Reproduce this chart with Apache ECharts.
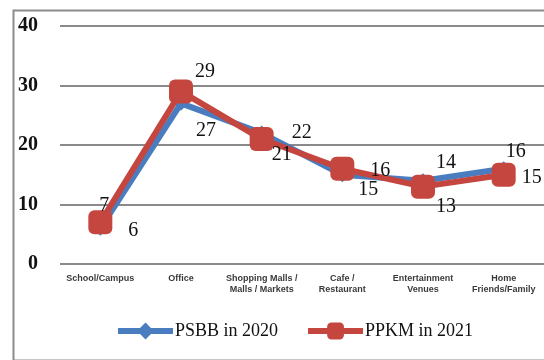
<!DOCTYPE html>
<html>
<head>
<meta charset="utf-8">
<script src="https://cdn.jsdelivr.net/npm/echarts@6/dist/echarts.min.js"></script>
<style>
  html, body { margin: 0; padding: 0; background: #fff; }
  #chart { width: 544px; height: 360px; }
</style>
</head>
<body>
<div id="chart"></div>
<script>
// Places visited, by period
const categories = [
  'School/Campus',
  'Office',
  'Shopping Malls /\nMalls / Markets',
  'Cafe /\nRestaurant',
  'Entertainment\nVenues',
  'Home\nFriends/Family'
];
const psbb2020 = [6, 27, 22, 15, 14, 16];
const ppkm2021 = [7, 29, 21, 16, 13, 15];
const yTicks = [0, 10, 20, 30, 40];

// Value-label placement (offset of label centre from the point, px)
const psbbLabelOffsets = [[33, 2], [25, 27], [40, 0], [26, 15], [23, -18], [12, -17]];
const ppkmLabelOffsets = [[4, -17], [24, -20], [20, 16], [38, 2], [23, 20], [28, 3]];

const BLUE = '#4A7DBF';
const RED = '#C5463F';
const serif = '"Liberation Serif", "DejaVu Serif", serif';

function withLabels(values, offsets) {
  return values.map((v, i) => ({
    value: v,
    label: { offset: offsets[i] }
  }));
}

const chart = echarts.init(document.getElementById('chart'), null, { renderer: 'canvas' });

chart.setOption({
  animation: false,
  backgroundColor: '#ffffff',
  graphic: [{
    type: 'rect',
    left: 11, top: 8,
    shape: { width: 560, height: 350 },
    style: { fill: 'none', stroke: '#8c8c8c', lineWidth: 2 },
    silent: true,
    z: -1
  }],
  grid: { left: 60, right: -2, top: 26, bottom: 96, containLabel: false },
  legend: {
    left: 110,
    top: 317,
    itemWidth: 55,
    itemHeight: 21,
    itemGap: 27,
    lineStyle: { width: 6 },
    textStyle: { fontFamily: serif, fontSize: 18, color: '#111', padding: [0, 0, 0, -3] },
    data: ['PSBB in 2020', 'PPKM in 2021']
  },
  xAxis: {
    type: 'category',
    data: categories,
    boundaryGap: true,
    axisLine: { show: false },
    axisTick: { show: false },
    axisLabel: {
      interval: 0,
      margin: 9,
      fontFamily: '"Liberation Sans", Arial, sans-serif',
      fontSize: 9,
      fontWeight: 'bold',
      lineHeight: 11,
      color: '#3a3a3a'
    }
  },
  yAxis: {
    type: 'value',
    min: yTicks[0],
    max: yTicks[yTicks.length - 1],
    interval: 10,
    axisLine: { show: false },
    axisTick: { show: false },
    axisLabel: {
      margin: 22,
      fontFamily: serif,
      fontSize: 20,
      fontWeight: 'bold',
      color: '#111'
    },
    splitLine: { lineStyle: { color: '#8a8a8a', width: 2 } }
  },
  series: [
    {
      name: 'PSBB in 2020',
      type: 'line',
      data: withLabels(psbb2020, psbbLabelOffsets),
      symbol: 'diamond',
      symbolSize: 15,
      lineStyle: { color: BLUE, width: 6 },
      itemStyle: { color: BLUE },
      label: {
        show: true,
        position: 'inside',
        fontFamily: serif,
        fontSize: 20,
        color: '#111'
      },
      z: 2
    },
    {
      name: 'PPKM in 2021',
      type: 'line',
      data: withLabels(ppkm2021, ppkmLabelOffsets),
      symbol: 'roundRect',
      symbolSize: 24,
      lineStyle: { color: RED, width: 6 },
      itemStyle: { color: RED },
      label: {
        show: true,
        position: 'inside',
        fontFamily: serif,
        fontSize: 20,
        color: '#111'
      },
      z: 3
    }
  ]
});
</script>
</body>
</html>
